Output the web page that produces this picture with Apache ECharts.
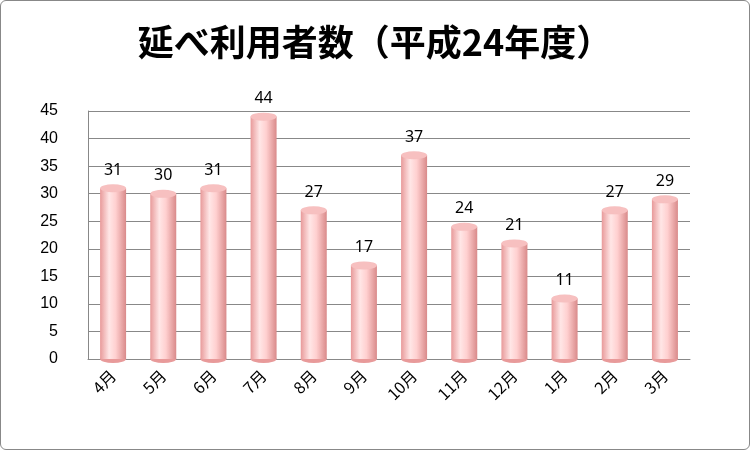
<!DOCTYPE html><html><head><meta charset="utf-8">
<script src="https://cdn.jsdelivr.net/npm/echarts@6/dist/echarts.min.js"></script>
<style>html,body{margin:0;background:#fff}#c{width:750px;height:450px;border:1px solid #888;border-radius:6px;box-sizing:border-box}</style>
</head><body><div id="c"></div><script>
const categories=['4月','5月','6月','7月','8月','9月','10月','11月','12月','1月','2月','3月'];
const values=[31,30,31,44,27,17,37,24,21,11,27,29];
const yTicks=[0,5,10,15,20,25,30,35,40,45];
const chart=echarts.init(document.getElementById('c'));
const grad=new echarts.graphic.LinearGradient(0,0,1,0,[{offset:0,color:'#e89a9a'},{offset:0.35,color:'#ffe6e6'},{offset:0.6,color:'#ffd0d0'},{offset:1,color:'#d98a8a'}]);
chart.setOption({
 animation:false,
 title:{text:'延べ利用者数（平成24年度）',left:'center',top:18,textStyle:{fontFamily:'Noto Sans CJK JP',fontWeight:'bold',fontSize:36,color:'#000'}},
 grid:{left:87,right:59,top:110,bottom:90},
 xAxis:{type:'category',data:categories,axisTick:{show:false},axisLine:{lineStyle:{color:'#888'}},
  axisLabel:{rotate:45,color:'#000',fontSize:16,fontFamily:'Noto Sans CJK JP',margin:14}},
 yAxis:{type:'value',min:0,max:45,interval:5,axisLine:{show:true,lineStyle:{color:'#888'}},
  axisLabel:{color:'#000',fontSize:16,margin:30,formatter:v=>yTicks.includes(v)?String(v):''},splitLine:{lineStyle:{color:'#888'}}},
 series:[
  {type:'bar',data:values,barWidth:26,itemStyle:{color:grad},z:2},
  {type:'pictorialBar',data:values,symbol:'circle',symbolSize:[26,8],symbolPosition:'end',symbolOffset:[0,'-50%'],
   itemStyle:{color:'#f7c0c0',borderColor:'#d98a8a',borderWidth:0.5},z:3,
   label:{show:true,position:'top',distance:6,color:'#000',fontSize:16,fontFamily:'Noto Sans'}},
  {type:'pictorialBar',data:values,symbol:'circle',symbolSize:[26,8],symbolPosition:'start',symbolOffset:[0,'50%'],
   itemStyle:{color:'#e89a9a'},z:1}
 ]
});
</script></body></html>
